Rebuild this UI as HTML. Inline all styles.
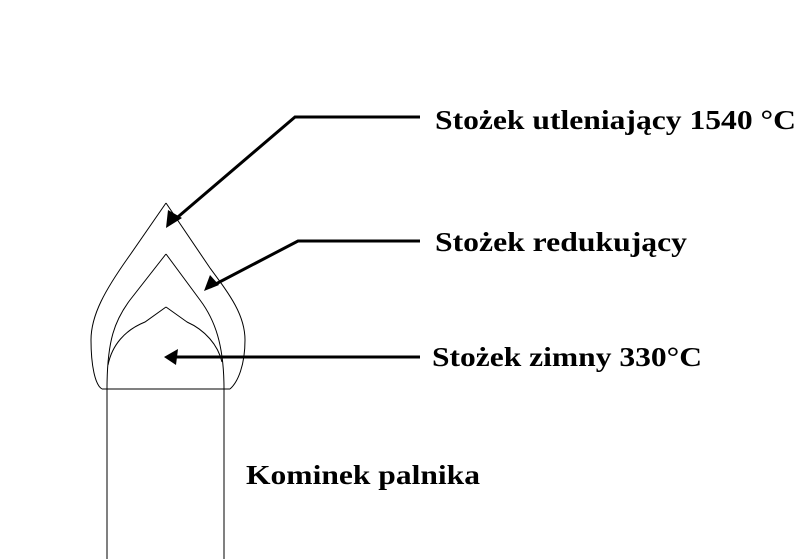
<!DOCTYPE html>
<html><head><meta charset="utf-8"><style>
html,body{margin:0;padding:0;background:#fff;}
svg{display:block}
text{font-family:"Liberation Serif",serif;font-weight:bold;font-size:27px;fill:#000}
</style></head><body>
<svg width="796" height="559" viewBox="0 0 796 559" xmlns="http://www.w3.org/2000/svg">
<g fill="none" stroke="#000" stroke-width="1">
<line x1="107" y1="389" x2="107" y2="559"/>
<line x1="224" y1="389" x2="224" y2="559"/>
<line x1="102" y1="389" x2="230" y2="389"/>
<path d="M166,203 L130,255 C105,290 91,315 91,340 C91,365 95,385 102,389"/>
<path d="M166,203 L210,268 C230,295 245,315 245,340 C245,365 238,382 230,389"/>
<path d="M166,254 L130,300 C115,320 107,340 107,389"/>
<path d="M166,254 L200,300 C215,320 224,345 224,389"/>
<path d="M166,307 L145,322 C125,330 112,345 108,365"/>
<path d="M166,307 L187,322 C205,330 218,345 222,362"/>
</g>
<g stroke="#000" stroke-width="3" fill="none">
<polyline points="420,117 295,117 172,222"/>
<polyline points="420,241 298,241 210,287"/>
<line x1="420" y1="357" x2="168" y2="357"/>
</g>
<g fill="#000">
<polygon points="166,228 168,210 182,218"/>
<polygon points="204,291 210,275 219,285"/>
<polygon points="164,357 178,349 176,365"/>
</g>
<text x="435" y="129" textLength="361" lengthAdjust="spacingAndGlyphs">Stożek utleniający 1540 °C</text>
<text x="435" y="251" textLength="252" lengthAdjust="spacingAndGlyphs">Stożek redukujący</text>
<text x="432" y="366" textLength="270" lengthAdjust="spacingAndGlyphs">Stożek zimny 330°C</text>
<text x="246" y="484" textLength="234" lengthAdjust="spacingAndGlyphs">Kominek palnika</text>
</svg>
</body></html>
